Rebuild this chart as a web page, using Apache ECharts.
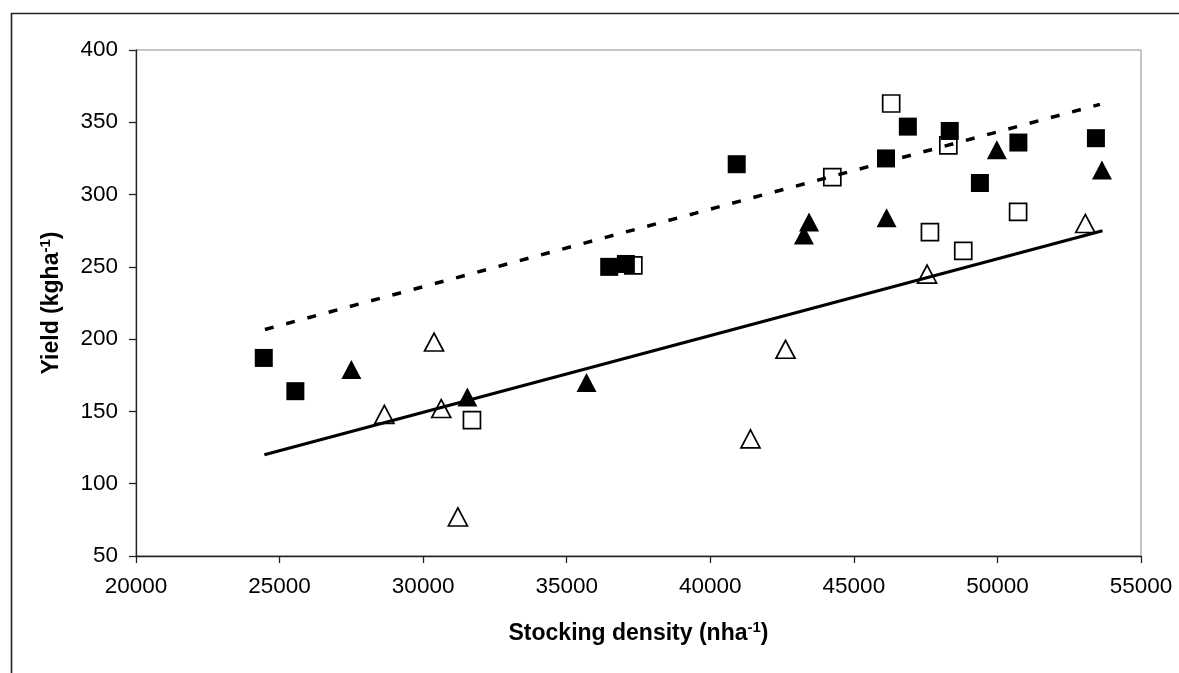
<!DOCTYPE html>
<html><head><meta charset="utf-8">
<script src="https://cdn.jsdelivr.net/npm/echarts@6/dist/echarts.min.js"></script>
<style>html,body{margin:0;padding:0;background:#fff}#c{width:1179px;height:673px}</style>
</head><body><div id="c"></div>
<script>
// Axis ranges / ticks
const xRange = [20000, 55000, 5000];
const yRange = [50, 400, 50];

// Scatter series: [stocking density, yield]
const filledSquares = [[24450,187],[25550,164],[36480,250],[37060,252],[40920,321],[46120,325],[46880,347],[48340,344],[49390,308],[50730,336],[53430,339]];
const openSquares = [[31700,144],[37320,251],[44250,312],[46300,363],[48290,334],[47650,274],[48810,261],[50720,288]];
const filledTriangles = [[27500,179],[31540,160],[35690,170],[43260,272],[43440,281],[46140,284],[49980,331],[53640,317]];
const openTriangles = [[28650,148],[30380,198],[30630,152],[31210,77],[41400,131],[42620,193],[47550,245],[53060,280]];

// Trend lines
const solidLine = [[24470,120],[53660,275]];
const dashedLine = [[24490,206.7],[41600,298.5],[53570,362.4]];

const FONT = '"Liberation Sans", Arial, sans-serif';
const chart = echarts.init(document.getElementById('c'), null, {renderer:'canvas'});

const nameRich = {
  b: {fontSize: 23, fontWeight: 'bold', fontFamily: FONT, color: '#000', lineHeight: 27},
  s: {fontSize: 15, fontWeight: 'bold', fontFamily: FONT, color: '#000', verticalAlign: 'top', lineHeight: 15}
};

const openStyle = {color: '#fff', borderColor: '#000', borderWidth: 1.7, opacity: 1};
const fillStyle = {color: '#000', borderColor: '#000', borderWidth: 0, opacity: 1};

chart.setOption({
  animation: false,
  backgroundColor: '#fff',
  graphic: [{
    type: 'rect', left: 9, top: 11, shape: {width: 1300, height: 800},
    style: {fill: 'none', stroke: '#222', lineWidth: 1.6}, silent: true
  }],
  grid: {left: 136, top: 50, right: 38, bottom: 117, show: true, borderColor: '#8c8c8c', borderWidth: 1, backgroundColor: 'transparent'},
  xAxis: {
    type: 'value', min: xRange[0], max: xRange[1], interval: xRange[2],
    name: '{b|Stocking density (nha}{s|-1}{b|)}',
    nameLocation: 'middle', nameGap: 64,
    nameTextStyle: {rich: nameRich},
    axisLine: {show: true, onZero: false, lineStyle: {color: '#222', width: 1.3}},
    axisTick: {show: true, inside: false, length: 7, lineStyle: {color: '#222', width: 1.3}},
    axisLabel: {margin: 19, fontSize: 22.5, fontFamily: FONT, color: '#000', formatter: v => String(v)},
    splitLine: {show: false}
  },
  yAxis: {
    type: 'value', min: yRange[0], max: yRange[1], interval: yRange[2],
    name: '{b|Yield (kgha}{s|-1}{b|)}',
    nameLocation: 'middle', nameGap: 71, nameRotate: 90,
    nameTextStyle: {rich: nameRich},
    axisLine: {show: true, onZero: false, lineStyle: {color: '#222', width: 1.3}},
    axisTick: {show: true, inside: false, length: 7, lineStyle: {color: '#222', width: 1.3}},
    axisLabel: {margin: 18, fontSize: 22.5, fontFamily: FONT, color: '#000', formatter: v => String(v)},
    splitLine: {show: false}
  },
  series: [
    {type: 'scatter', data: openSquares, symbol: 'rect', symbolSize: 17, itemStyle: openStyle, z: 2},
    {type: 'scatter', data: openTriangles, symbol: 'triangle', symbolSize: [19, 18], itemStyle: openStyle, z: 2},
    {type: 'scatter', data: filledTriangles, symbol: 'triangle', symbolSize: [20, 19], itemStyle: fillStyle, z: 3},
    {type: 'scatter', data: filledSquares, symbol: 'rect', symbolSize: 18, itemStyle: fillStyle, z: 3},
    {type: 'line', data: solidLine, showSymbol: false, symbol: 'none', lineStyle: {color: '#000', width: 3.2, type: 'solid', opacity: 1}, z: 5},
    {type: 'line', data: dashedLine, showSymbol: false, symbol: 'none', lineStyle: {color: '#000', width: 3.5, type: [9, 13], cap: 'butt', opacity: 1}, z: 5}
  ]
});
</script></body></html>
